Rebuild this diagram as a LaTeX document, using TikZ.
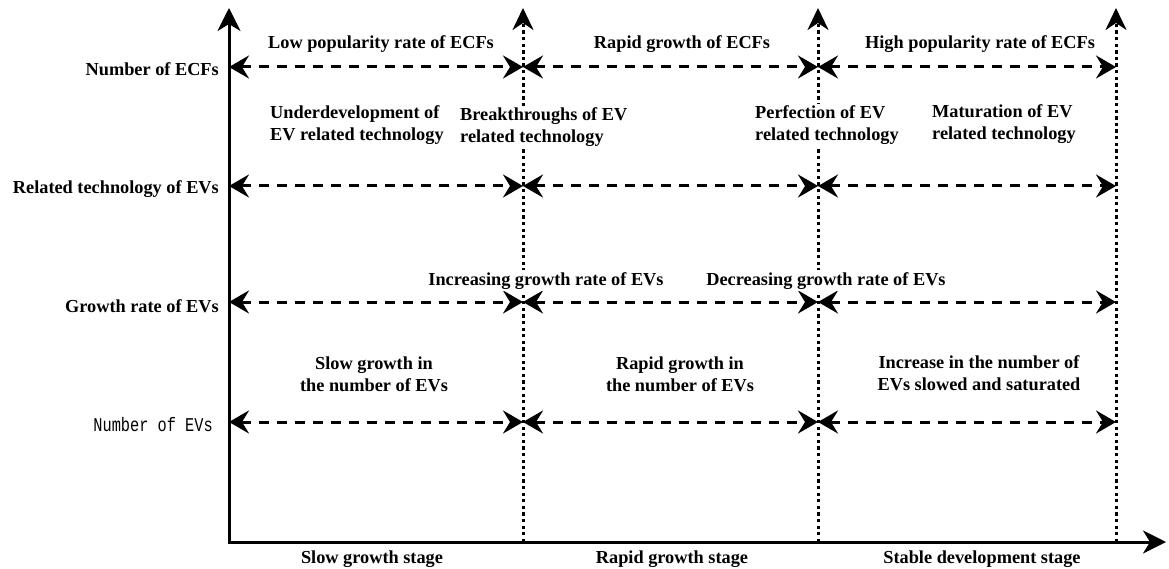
\documentclass[tikz,border=0pt]{standalone}
\usepackage{fontspec}
\setmainfont{Liberation Serif}
\newfontfamily\monofont{Liberation Mono}
\usepackage{graphicx}
\usetikzlibrary{arrows.meta}
\begin{document}
\begin{tikzpicture}[x=1pt,y=-1pt,
  axis/.style={line width=3pt, {Stealth[length=23pt,width=23pt,inset=7pt]}-{Stealth[length=23pt,width=23pt,inset=7pt]}},
  guide/.style={line width=3pt, dash pattern=on 3.3pt off 3.3pt, -{Stealth[length=22pt,width=21pt,inset=7pt]}},
  span/.style={line width=3pt, dash pattern=on 10pt off 8pt, {Stealth[length=20pt,width=23pt,inset=7pt]}-{Stealth[length=20pt,width=23pt,inset=7pt]}},
  lbl/.style={font=\bfseries\fontsize{18.3}{22}\selectfont, inner sep=2pt, fill=white, anchor=base},
  rowlbl/.style={lbl, anchor=base east},
  monolbl/.style={font=\monofont\fontsize{19.5}{22}\selectfont, inner sep=0pt, anchor=base east},
  blk/.style={lbl, align=left, anchor=base west},
  cblk/.style={lbl, align=center}
]
\useasboundingbox (0,0) rectangle (1169,569);
% coordinates
\coordinate (O) at (229,542);
\coordinate (Ytop) at (229,8);
\coordinate (Xend) at (1166,542);
\foreach \c/\x in {1/523,2/818,3/1116}{
  \coordinate (b\c) at (\x,542);
  \coordinate (t\c) at (\x,8);
}
\foreach \r/\y in {1/67,2/186,3/302,4/422}{
  \coordinate (r\r c0) at (229,\y);
  \coordinate (r\r c1) at (523,\y);
  \coordinate (r\r c2) at (818,\y);
  \coordinate (r\r c3) at (1116,\y);
}
% guides
\foreach \c in {1,2,3}{ \draw[guide] (b\c) -- (t\c); }
% axes
\draw[axis] (Ytop) -- (O) -- (Xend);
% span arrows
\foreach \r in {1,2,3,4}{
  \draw[span] (r\r c0) -- (r\r c1);
  \draw[span] (r\r c1) -- (r\r c2);
  \draw[span] (r\r c2) -- (r\r c3);
}
% row labels
\node[rowlbl] (L1) at (221,76) {Number of ECFs};
\node[rowlbl] (L2) at (221,194) {Related technology of EVs};
\node[rowlbl] (L3) at (221,312) {Growth rate of EVs};
\node[monolbl] (L4) at (213,431) {\scalebox{0.785}[1]{Number of EVs}};
% row 1
\node[lbl] (a1) at (381,49) {Low popularity rate of ECFs};
\node[lbl] (a2) at (682,49) {Rapid growth of ECFs};
\node[lbl] (a3) at (980,49) {High popularity rate of ECFs};
% row 2
\node[blk] (b1t) at (268,141) {Underdevelopment of\\EV related technology};
\node[blk] (b2t) at (458,143) {Breakthroughs of EV\\related technology};
\node[blk] (b3t) at (753,141) {Perfection of EV\\related technology};
\node[blk] (b4t) at (930,140) {Maturation of EV\\related technology};
% row 3
\node[lbl] (c1t) at (546,285) {Increasing growth rate of EVs};
\node[lbl] (c2t) at (826,285) {Decreasing growth rate of EVs};
% row 4
\node[cblk] (d1t) at (374,391) {Slow growth in\\the number of EVs};
\node[cblk] (d2t) at (680,391) {Rapid growth in\\the number of EVs};
\node[cblk] (d3t) at (979,390) {Increase in the number of\\EVs slowed and saturated};
% stages
\node[lbl] (s1) at (372,563) {Slow growth stage};
\node[lbl] (s2) at (672,563) {Rapid growth stage};
\node[lbl] (s3) at (982,563) {Stable development stage};
\end{tikzpicture}
\end{document}
